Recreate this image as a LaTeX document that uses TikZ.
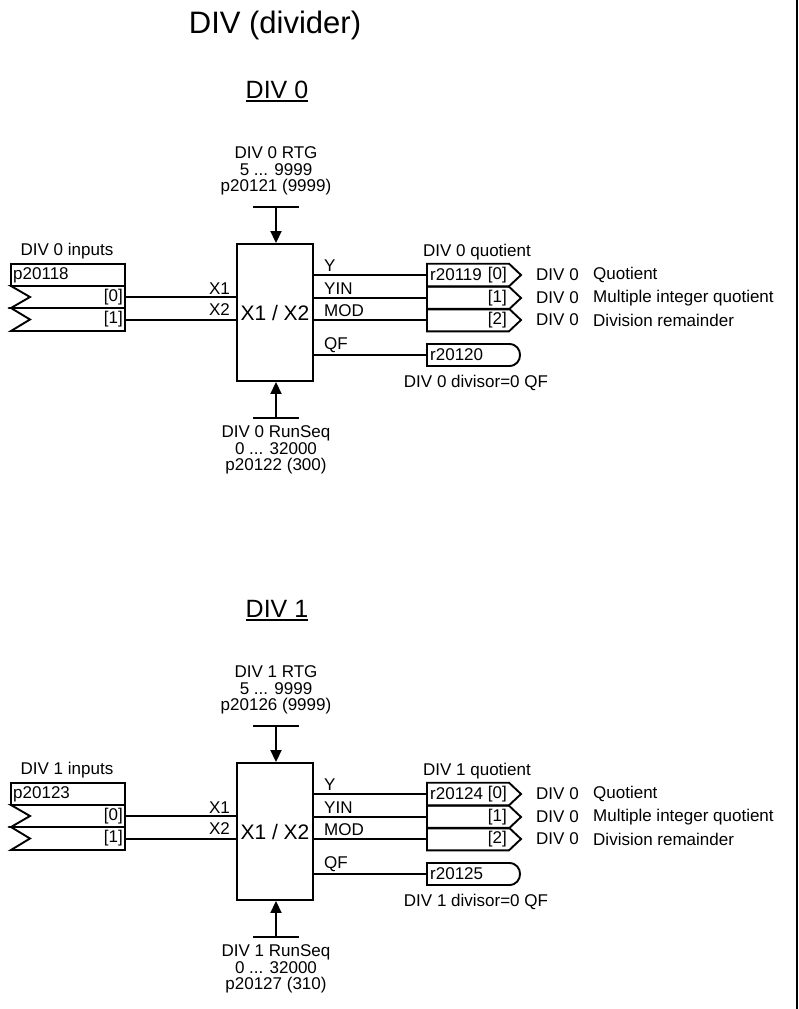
\documentclass[tikz,border=0pt]{standalone}
\usepackage{fontspec}
\setmainfont{Liberation Sans}
\usetikzlibrary{arrows.meta}

\tikzset{
  lbl/.style={inner sep=0pt, font=\fontsize{17}{16.8}\selectfont},
  wire/.style={line width=1.9pt},
  feed/.style={line width=1.9pt, -{Triangle[length=12pt,width=11pt]}},
}

\begin{document}
\begin{tikzpicture}[x=1pt,y=-1pt]
\useasboundingbox (0,0) rectangle (798,1009);
\node[font=\fontsize{31}{34}\selectfont] (title) at (275,25) {DIV (divider)};
\draw[line width=1.5pt] (797,0) -- (797,1009);
\foreach \n/\dy/\pin/\prtg/\pseq/\vseq/\pq/\pqf in {0/0/p20118/p20121/p20122/300/r20119/r20120, 1/519/p20123/p20126/p20127/310/r20124/r20125}{
\begin{scope}[yshift=-\dy pt]
% heading
\node[inner sep=0pt, font=\fontsize{25}{28}\selectfont] (sec\n) at (277,90) {DIV \n};
\draw[line width=1.4pt] ([yshift=-2.5pt]sec\n.base west) -- ([yshift=-2.5pt]sec\n.base east);
% divider block
\node[draw, wire, minimum width=76pt, minimum height=137pt, font=\fontsize{21}{24}\selectfont] (box\n) at (275,312.5) {X1 / X2};
\node[lbl, align=center] (rtg\n) at (276,171) {DIV \n\ RTG\\5 ... 9999\\\prtg\ (9999)};
\coordinate (top\n) at (276,207);
\draw[wire] (253,207) -- (299,207);
\draw[feed] (top\n) -- (top\n |- box\n.north);
\coordinate (bot\n) at (276,418);
\draw[wire] (253,418) -- (299,418);
\draw[feed] (bot\n) -- (bot\n |- box\n.south);
\node[lbl, align=center] (seq\n) at (276,450) {DIV \n\ RunSeq\\0 ... 32000\\\pseq\ (\vseq)};
% inputs
\node[lbl] (inl\n) at (67,251) {DIV \n\ inputs};
\draw[wire] (11,264) rectangle (125,286);
\node[lbl, anchor=west] (inp\n) at (13,275) {\pin};
\draw[wire] (11,286) -- (125,286) -- (125,308) -- (11,308) -- (30,297) -- cycle;
\draw[wire] (11,308) -- (125,308) -- (125,331) -- (11,331) -- (30,319.5) -- cycle;
\node[lbl, anchor=east] (ia\n) at (123,297) {[0]};
\node[lbl, anchor=east] (ib\n) at (123,319.5) {[1]};
\coordinate (xa\n) at (125,297);
\coordinate (xb\n) at (125,320);
\draw[wire] (xa\n) -- (xa\n -| box\n.west);
\draw[wire] (xb\n) -- (xb\n -| box\n.west);
\node[lbl, anchor=east] (la\n) at (230,289) {X1};
\node[lbl, anchor=east] (lb\n) at (230,310) {X2};
% outputs
\node[lbl] (outl\n) at (477,252) {DIV \n\ quotient};
\foreach \k/\lab/\yy/\txt in {0/Y/275/Quotient, 1/YIN/298/Multiple integer quotient, 2/MOD/320/Division remainder}{
  \draw[wire] (427,\yy-11.3) -- (509,\yy-11.3) -- (521,\yy) -- (509,\yy+11.3) -- (427,\yy+11.3) -- cycle;
  \coordinate (q\k\n) at (427,\yy);
  \draw[line width=1.9pt] (q\k\n -| box\n.east) -- (q\k\n);
  \node[lbl, anchor=west] (ol\k\n) at (324,\yy-9.5) {\lab};
  \node[lbl, anchor=east] (oi\k\n) at (507,\yy) {[\k]};
  \node[lbl, anchor=west] (od\k\n) at (536,\yy) {DIV 0};
  \node[lbl, anchor=west] (ot\k\n) at (593,\yy) {\txt};
}
\node[lbl, anchor=west] (outp\n) at (430,275) {\pq};
% divisor=0 flag
\coordinate (qf\n) at (427,355);
\draw[wire] (qf\n -| box\n.east) -- (qf\n);
\draw[wire] (427,344) -- (509,344) .. controls (523.7,344) and (523.7,366) .. (509,366) -- (427,366) -- cycle;
\node[lbl, anchor=west] (qfl\n) at (324,345) {QF};
\node[lbl, anchor=west] (qfp\n) at (430,355) {\pqf};
\node[lbl] (qft\n) at (476,383) {DIV \n\ divisor=0 QF};
\end{scope}
}
\end{tikzpicture}
\end{document}
